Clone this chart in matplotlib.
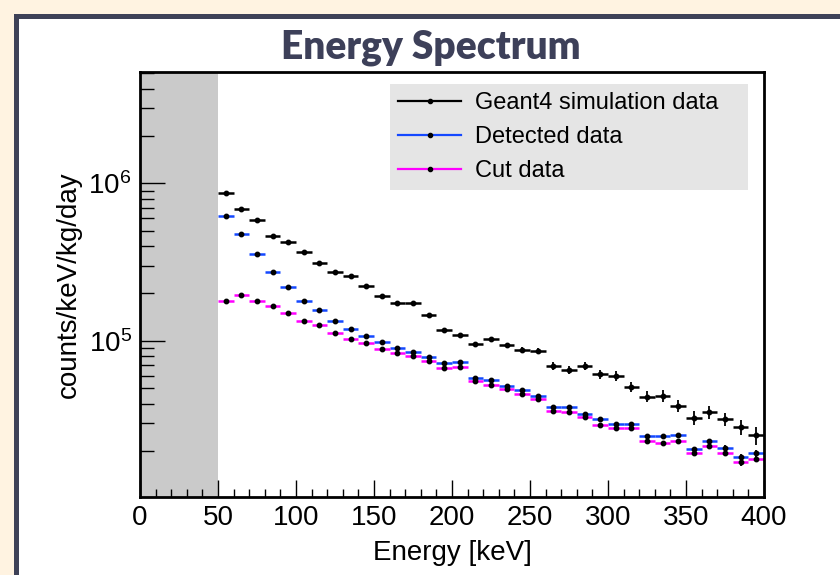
import numpy as np
import matplotlib.pyplot as plt
from matplotlib.patches import Rectangle
from matplotlib.lines import Line2D
from matplotlib.ticker import LogLocator, NullFormatter, MultipleLocator

plt.rcParams['font.family'] = ['Liberation Sans', 'DejaVu Sans']
plt.rcParams['mathtext.default'] = 'regular'

# bins of 10 keV from 50 to 400 keV
bin_edges = np.arange(50, 401, 10)
energy = (bin_edges[:-1] + bin_edges[1:]) / 2

# counts/keV/kg/day
geant4 = [8.65e5, 6.9e5, 5.85e5, 4.64e5, 4.25e5, 3.67e5, 3.12e5, 2.73e5, 2.57e5, 2.22e5,
          1.94e5, 1.73e5, 1.75e5, 1.47e5, 1.18e5, 1.09e5, 9.5e4, 1.03e5, 9.4e4, 8.8e4,
          8.6e4, 6.9e4, 6.55e4, 6.9e4, 6.17e4, 6.0e4, 5.13e4, 4.43e4, 4.49e4, 3.87e4,
          3.24e4, 3.54e4, 3.18e4, 2.84e4, 2.51e4]
detected = [6.17e5, 4.78e5, 3.57e5, 2.74e5, 2.19e5, 1.79e5, 1.56e5, 1.33e5, 1.19e5, 1.08e5,
            9.8e4, 8.98e4, 8.5e4, 7.94e4, 7.26e4, 7.35e4, 5.85e4, 5.62e4, 5.15e4, 4.86e4,
            4.49e4, 3.83e4, 3.83e4, 3.44e4, 3.21e4, 2.98e4, 2.97e4, 2.49e4, 2.49e4, 2.51e4,
            2.05e4, 2.31e4, 2.09e4, 1.82e4, 1.94e4]
cut = [1.78e5, 1.95e5, 1.79e5, 1.66e5, 1.5e5, 1.34e5, 1.26e5, 1.13e5, 1.03e5, 9.67e4,
       8.93e4, 8.34e4, 7.98e4, 7.45e4, 6.72e4, 6.78e4, 5.57e4, 5.28e4, 4.92e4, 4.57e4,
       4.25e4, 3.6e4, 3.53e4, 3.29e4, 2.94e4, 2.81e4, 2.79e4, 2.31e4, 2.25e4, 2.3e4,
       1.93e4, 2.14e4, 1.94e4, 1.69e4, 1.79e4]

# relative statistical errors (vertical bars)
geant4_err = [0.010, 0.010, 0.012, 0.012, 0.013, 0.014, 0.015, 0.016, 0.017, 0.018,
              0.020, 0.022, 0.022, 0.025, 0.028, 0.030, 0.035, 0.033, 0.036, 0.040,
              0.042, 0.060, 0.062, 0.060, 0.065, 0.068, 0.072, 0.080, 0.085, 0.090,
              0.100, 0.095, 0.100, 0.115, 0.130]
sel_err = [0.005, 0.005, 0.006, 0.006, 0.007, 0.008, 0.008, 0.009, 0.010, 0.010,
           0.011, 0.012, 0.012, 0.013, 0.014, 0.014, 0.016, 0.017, 0.018, 0.019,
           0.020, 0.022, 0.023, 0.024, 0.025, 0.027, 0.028, 0.030, 0.031, 0.032,
           0.036, 0.038, 0.040, 0.045, 0.050]

labels = ['Geant4 simulation data', 'Detected data', 'Cut data']
colors = ['#000000', '#1448ff', '#ff00ff']
series = [(geant4, geant4_err), (detected, sel_err), (cut, sel_err)]

fig = plt.figure(figsize=(8.4, 5.75), dpi=100, facecolor='#fff3e1')
# dark frame + white panel
fig.patches.append(Rectangle((14 / 840, 0), 1, 1 - 14 / 575, transform=fig.transFigure,
                             facecolor='#3e4157', edgecolor='none', zorder=-2))
fig.patches.append(Rectangle((19 / 840, 0), 1, 1 - 19 / 575, transform=fig.transFigure,
                             facecolor='white', edgecolor='none', zorder=-1))

ax = fig.add_axes([140 / 840, 1 - 497 / 575, 624 / 840, 425 / 575])
ax.axvspan(0, 50, color='#cacaca', zorder=0, lw=0)

for (vals, rel), c in zip(series, colors):
    vals = np.array(vals)
    ax.errorbar(energy, vals, xerr=5, fmt='none', ecolor=c, elinewidth=1.8, zorder=2)
    ax.errorbar(energy, vals, yerr=vals * np.array(rel), fmt='o', color='k', ms=3.2,
                elinewidth=1.3, capsize=0, zorder=3)

ax.set_yscale('log')
ax.set_xlim(0, 400)
ax.set_ylim(1.02e4, 5.1e6)
ax.xaxis.set_major_locator(MultipleLocator(50))
ax.xaxis.set_minor_locator(MultipleLocator(10))
ax.yaxis.set_major_locator(LogLocator(base=10))
ax.yaxis.set_minor_locator(LogLocator(base=10, subs=np.arange(2, 10)))
ax.yaxis.set_minor_formatter(NullFormatter())
ax.tick_params(axis='both', which='both', direction='in', top=False, right=False,
               labelsize=20, width=1)
ax.tick_params(axis='x', which='major', length=12, pad=6)
ax.tick_params(axis='x', which='minor', length=6)
ax.tick_params(axis='y', which='major', length=18, pad=6)
ax.tick_params(axis='y', which='minor', length=10)
for s in ax.spines.values():
    s.set_linewidth(2)

ax.set_xlabel('Energy [keV]', fontsize=20, labelpad=6)
ax.set_ylabel('counts/keV/kg/day', fontsize=20, labelpad=5)

fig.text(431 / 840, 1 - 58 / 575, 'Energy Spectrum', ha='center', va='baseline',
         fontsize=28, fontweight='heavy', family='Lato', color='#3d4059')

handles = [Line2D([], [], color=c, lw=1.6, marker='o', ms=3, mfc='k', mec='k') for c in colors]
leg = ax.legend(handles, labels, loc='upper left',
                bbox_to_anchor=(390 / 840, 1 - 84 / 575, 358 / 840, 0),
                bbox_transform=fig.transFigure, mode='expand', fontsize=17,
                frameon=True, facecolor='#e5e5e5', edgecolor='none', fancybox=False,
                framealpha=1, borderaxespad=0, borderpad=0.35, handlelength=2.65,
                handletextpad=0.6, labelspacing=0.5)

fig.savefig('out.png', dpi=100, facecolor=fig.get_facecolor())
